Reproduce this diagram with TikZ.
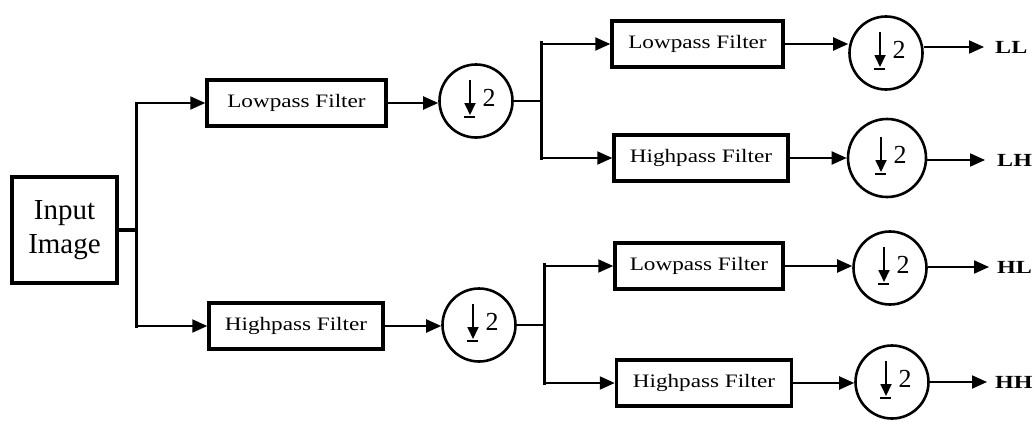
\documentclass[tikz,border=0pt]{standalone}
\usepackage{fontspec}
\setmainfont{Liberation Serif}
\newfontfamily\widefont[FakeStretch=1.22]{Liberation Serif}
\newfontfamily\widebold[FakeStretch=1.3]{Liberation Serif Bold}
\usetikzlibrary{arrows.meta,calc}
\begin{document}
\begin{tikzpicture}[x=1pt,y=-1pt,
  box/.style={draw, line width=3.5pt, minimum height=46pt, inner sep=0pt,
    font=\widefont\fontsize{19}{20}\selectfont},
  circ/.style={draw, circle, line width=2.6pt, minimum size=73pt, inner sep=0pt},
  two/.style={inner sep=0pt, font=\fontsize{26}{26}\selectfont},
  outlbl/.style={inner sep=0pt, font=\widebold\fontsize{18.5}{18}\selectfont},
  arr/.style={line width=2pt, -{Triangle[length=15pt,width=13pt]}},
  trunk/.style={line width=3.2pt},
  sym/.style={line width=1.8pt}]
\useasboundingbox (0,0) rectangle (1035,423);

% input
\node[draw, line width=3.5pt, minimum width=105pt, minimum height=106pt, inner sep=0pt,
  align=center, font=\fontsize{29}{34}\selectfont] (in) at (64.5,230) {Input\\Image};

% first stage filters
\node[box, minimum width=179pt] (lp1) at (296.5,103) {Lowpass Filter};
\node[box, minimum width=174pt] (hp1) at (296,326) {Highpass Filter};

% first stage downsamplers
\node[circ] (c1) at (476,101) {};
\node[circ] (c2) at (479,325) {};

% second stage filters
\node[box, minimum width=171pt] (lp2) at (697.5,44) {Lowpass Filter};
\node[box, minimum width=174pt] (hp2) at (701,158) {Highpass Filter};
\node[box, minimum width=168pt] (lp3) at (699,266) {Lowpass Filter};
\node[box, minimum width=175pt] (hp3) at (704,383) {Highpass Filter};

% second stage downsamplers
\node[circ] (d1) at (886,53) {};
\node[circ, minimum size=78pt] (d2) at (887,158) {};
\node[circ] (d3) at (890,268) {};
\node[circ] (d4) at (892,382) {};

% outputs
\node[outlbl, anchor=west] (LL) at (995,47) {LL};
\node[outlbl, anchor=west] (LH) at (997,160) {LH};
\node[outlbl, anchor=west] (HL) at (997,267) {HL};
\node[outlbl, anchor=west] (HH) at (995,382) {HH};

% downsample symbols
\foreach \n in {c1,c2,d1,d2,d3,d4}{
  \draw[sym, -{Triangle[length=12pt,width=11pt]}]
    ([shift={(-6,-21)}]\n.center) -- ([shift={(-6,14)}]\n.center);
  \draw[line width=2.2pt] ([shift={(-12,16)}]\n.center) -- ([shift={(-1,16)}]\n.center);
  \node[two] (\n-two) at ([shift={(13,-3)}]\n.center) {2};
}

% input split
\coordinate (j0) at ($(in.east)+(18,0)$);
\draw[trunk] (in.east) -- (j0);
\draw[trunk] ([yshift=1.5pt]j0 |- lp1) -- ([yshift=-1.5pt]j0 |- hp1);
\draw[arr] ([xshift=-1.5pt]j0 |- lp1) -- (lp1.west);
\draw[arr] ([xshift=-1.5pt]j0 |- hp1) -- (hp1.west);

% to first downsamplers
\draw[arr] (lp1.east) -- (lp1.east -| c1.west);
\draw[arr] (hp1.east) -- (hp1.east -| c2.west);

% split after c1
\coordinate (j1) at ($(c1.east)+(28,0)$);
\draw[line width=2pt] (c1.east) -- (j1);
\draw[trunk] ([yshift=3pt]j1 |- lp2) -- ([yshift=-1.5pt]j1 |- hp2);
\draw[arr] ([xshift=-1.5pt]j1 |- lp2) -- (lp2.west);
\draw[arr] ([xshift=-1.5pt]j1 |- hp2) -- (hp2.west);

% split after c2
\coordinate (j2) at ($(c2.east)+(28,0)$);
\draw[line width=2pt] (c2.east) -- (j2);
\draw[trunk] ([yshift=3pt]j2 |- lp3) -- ([yshift=-1.5pt]j2 |- hp3);
\draw[arr] ([xshift=-1.5pt]j2 |- lp3) -- (lp3.west);
\draw[arr] ([xshift=-1.5pt]j2 |- hp3) -- (hp3.west);

% to second downsamplers
\draw[arr] (lp2.east) -- (lp2.east -| d1.west);
\draw[arr] (hp2.east) -- (hp2.east -| d2.west);
\draw[arr] (lp3.east) -- (lp3.east -| d3.west);
\draw[arr] (hp3.east) -- (hp3.east -| d4.west);

% outputs
\draw[arr, shorten >=11pt] (LL.west -| d1.east) -- (LL.west);
\draw[arr, shorten >=12pt] (LH.west -| d2.east) -- (LH.west);
\draw[arr, shorten >=8pt] (HL.west -| d3.east) -- (HL.west);
\draw[arr, shorten >=8pt] (HH.west -| d4.east) -- (HH.west);
\end{tikzpicture}
\end{document}
